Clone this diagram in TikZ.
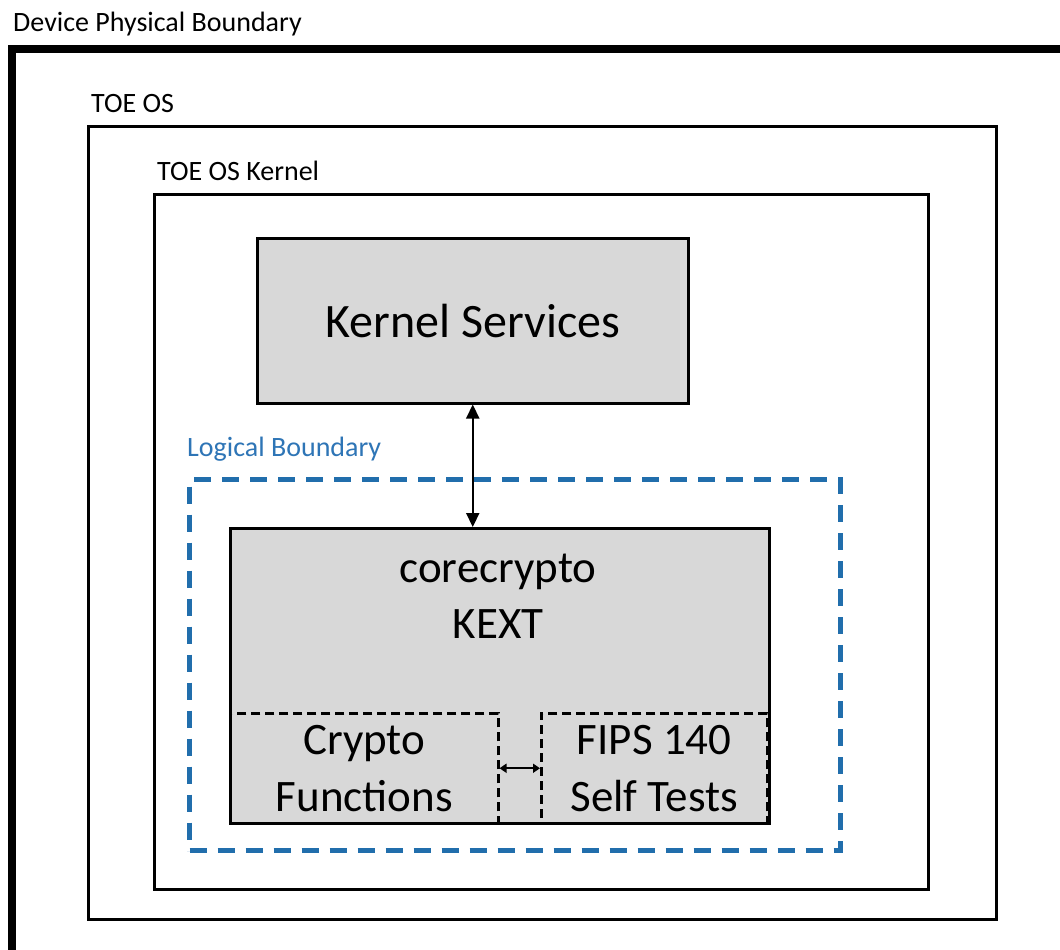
\documentclass[tikz,border=0pt]{standalone}
\usepackage{fontspec}
\setmainfont{Carlito}
\usetikzlibrary{arrows.meta}
\definecolor{boxgray}{RGB}{216,216,216}
\definecolor{lbblue}{RGB}{46,117,182}
\definecolor{lbline}{RGB}{33,110,172}
\begin{document}
\begin{tikzpicture}[x=1pt,y=-1pt,
  frame/.style={draw=black,line width=3pt},
  solidbox/.style={draw=black,line width=2.5pt,fill=boxgray,inner sep=0pt,anchor=north west},
  subbox/.style={draw=black,line width=2.5pt,dash pattern=on 9pt off 5pt,inner sep=0pt,anchor=north west,align=center,font=\fontsize{45}{57}\selectfont},
  lab/.style={anchor=base west,inner sep=0pt,font=\fontsize{28}{32}\selectfont},
  bigtext/.style={anchor=base,inner sep=0pt,font=\fontsize{45}{56}\selectfont},
  link/.style={line width=2.2pt,{Triangle[length=14pt,width=13pt]}-{Triangle[length=14pt,width=13pt]}},
  smalllink/.style={line width=2.2pt,{Triangle[length=7pt,width=9pt]}-{Triangle[length=7pt,width=9pt]}},
]
\useasboundingbox (0,0) rectangle (1060,950);
\fill[white] (0,0) rectangle (1060,950);

% device physical boundary
\draw[line width=8pt] (1075,49) -- (12,49) -- (12,965);
\node[lab] (devlab) at (13,32) {Device Physical Boundary};

% TOE OS
\node[frame,inner sep=0pt,anchor=north west,minimum width=908pt,minimum height=793pt] (toeos) at (87,125) {};
\node[lab] (toeoslab) at (91,112) {TOE OS};

% TOE OS Kernel
\node[frame,inner sep=0pt,anchor=north west,minimum width=774pt,minimum height=695pt] (kernel) at (153,193) {};
\node[lab] (kernellab) at (157,180) {TOE OS Kernel};

% Kernel Services
\node[solidbox,minimum width=431pt,minimum height=165pt,font=\fontsize{48}{58}\selectfont] (ks) at (256,237) {Kernel Services};

% Logical boundary
\node[draw=lbline,line width=5pt,dash pattern=on 17pt off 11pt,inner sep=0pt,anchor=north west,minimum width=651pt,minimum height=371pt] (lb) at (187,477) {};
\node[lab,text=lbblue] (lblab) at (187,456) {Logical Boundary};

% corecrypto KEXT
\node[solidbox,minimum width=539pt,minimum height=295pt] (cc) at (229,527) {};
\node[bigtext] (cctext1) at (498,582) {corecrypto};
\node[bigtext] (cctext2) at (498,638) {KEXT};

% sub boxes
\node[subbox,minimum width=268pt,minimum height=110pt] (cf) at (229,712) {Crypto\\Functions};
\node[subbox,minimum width=226pt,minimum height=110pt] (fips) at (540,712) {FIPS 140\\Self Tests};

% connectors
\draw[link] (ks.south) -- (ks.south |- cc.north);
\draw[smalllink] (cf.east) -- (fips.west);
\end{tikzpicture}
\end{document}
